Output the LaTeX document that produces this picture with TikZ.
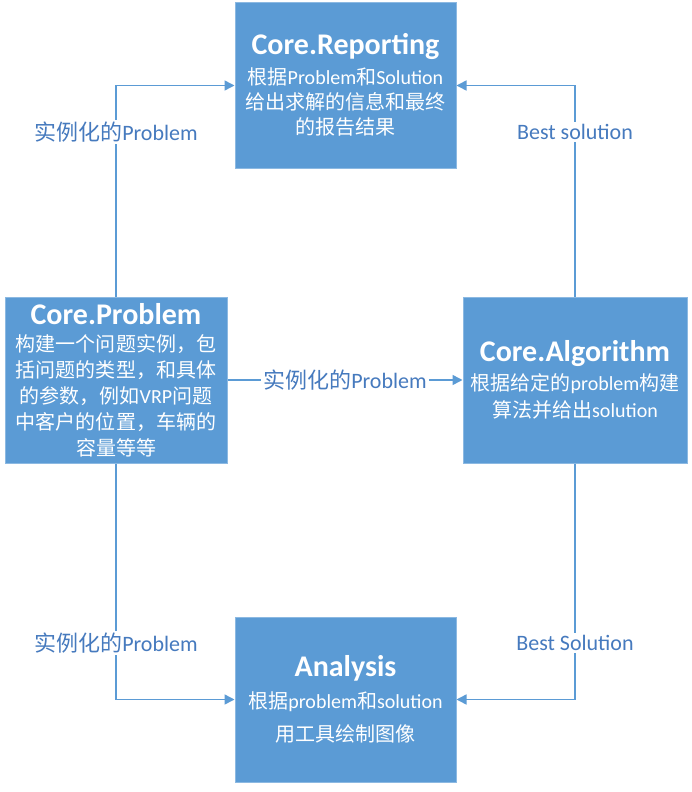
\documentclass[tikz,border=0pt]{standalone}
\usepackage{fontspec}
\setmainfont{Carlito}
\newfontfamily\zhfont{Noto Sans CJK SC}
\newcommand{\zh}[1]{{\zhfont #1}}
\newcommand{\titel}[1]{{\fontsize{30}{36}\selectfont\bfseries #1}}
\usetikzlibrary{arrows.meta}
\definecolor{kasten}{RGB}{91,155,213}
\definecolor{linie}{RGB}{91,155,213}
\definecolor{schrift}{RGB}{70,122,190}
\tikzset{
    modul/.style={draw=kasten!70!white, line width=1pt, fill=kasten, text=white,
        minimum width=221pt, minimum height=165pt, inner sep=0pt, align=center,
        font=\fontsize{20}{25}\selectfont},
    pfeil/.style={draw=linie, line width=1.5pt, -{Triangle[length=10pt,width=10pt]}},
    etikett/.style={fill=white, text=schrift, inner sep=2pt, font=\fontsize{22}{26}\selectfont}
}
\begin{document}
\begin{tikzpicture}[x=1pt, y=-1pt]
    \useasboundingbox[fill=white] (0,0) rectangle (692,792);
    %Module
    \node[modul, text depth=4pt] (reporting) at (345.5,85.5) {\titel{Core.Reporting}\\[5pt]
        \zh{根据}Problem\zh{和}Solution\\ \zh{给出求解的信息和最终}\\ \zh{的报告结果}};
    \node[modul, minimum width=222pt, minimum height=166pt] (problem) at (116,380) {\titel{Core.Problem}\\[2pt]
        \zh{构建一个问题实例，包}\\[1pt] \zh{括问题的类型，和具体}\\[1pt] \zh{的参数，例如}VRP\zh{问题}\\[1pt]
        \zh{中客户的位置，车辆的}\\[1pt] \zh{容量等等}};
    \node[modul, minimum width=224pt, minimum height=166pt] (algorithm) at (575,380) {\titel{Core.Algorithm}\\[4pt]
        \zh{根据给定的}problem\zh{构建}\\[2pt] \zh{算法并给出}solution};
    \node[modul] (analysis) at (345.5,699.5) {\titel{Analysis}\\[7pt]
        \zh{根据}problem\zh{和}solution\\[8pt] \zh{用工具绘制图像}};
    %Verbindungen
    \draw[pfeil] (problem.north) |- (reporting.west) node[etikett, pos=0.39] {\zh{实例化的}Problem};
    \draw[pfeil] (algorithm.north) |- (reporting.east) node[etikett, pos=0.39] {Best solution};
    \draw[pfeil] (problem.east) -- (algorithm.west) node[etikett, midway] {\zh{实例化的}Problem};
    \draw[pfeil] (problem.south) |- (analysis.west) node[etikett, pos=0.38] {\zh{实例化的}Problem};
    \draw[pfeil] (algorithm.south) |- (analysis.east) node[etikett, pos=0.38] {Best Solution};
\end{tikzpicture}
\end{document}
